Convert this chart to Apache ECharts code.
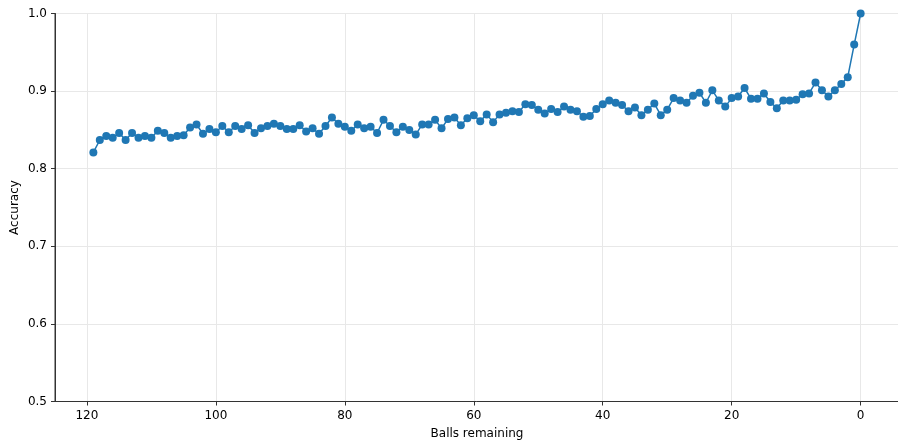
<!DOCTYPE html>
<html>
<head>
<meta charset="utf-8">
<script src="https://cdn.jsdelivr.net/npm/echarts@6/dist/echarts.min.js"></script>
<style>
  html, body { margin: 0; padding: 0; background: #fff; }
  #chart { width: 898px; height: 441px; }
</style>
</head>
<body>
<div id="chart"></div>
<script>
    // balls remaining, counted down from 119 to 0
    var ballsRemaining = [];
    for (var b = 119; b >= 0; b--) ballsRemaining.push(b);

    // accuracy, same order as ballsRemaining
    var accuracy = [
        0.821, 0.837, 0.842, 0.840, 0.846, 0.837, 0.846, 0.840, 0.842, 0.840,
        0.849, 0.846, 0.840, 0.842, 0.843, 0.853, 0.857, 0.845, 0.851, 0.847,
        0.855, 0.847, 0.855, 0.851, 0.856, 0.846, 0.852, 0.855,
        0.858, 0.855, 0.851, 0.851, 0.856, 0.848, 0.852, 0.845, 0.855, 0.866,
        0.858, 0.854, 0.849, 0.857, 0.852, 0.854, 0.846, 0.863, 0.855, 0.847,
        0.854, 0.850, 0.844, 0.857, 0.857, 0.863, 0.852, 0.864, 0.866, 0.856,
        0.865, 0.869,
        0.861, 0.870, 0.860, 0.870, 0.872, 0.874, 0.873, 0.883, 0.882, 0.876,
        0.871, 0.877, 0.873, 0.880, 0.876, 0.874, 0.867, 0.868, 0.877, 0.883,
        0.888, 0.885, 0.882, 0.874, 0.879, 0.869, 0.876, 0.884, 0.869, 0.876,
        0.891,
        0.888, 0.885, 0.894, 0.898, 0.885, 0.901, 0.888, 0.880, 0.891, 0.893,
        0.904, 0.890, 0.890, 0.897, 0.886, 0.878, 0.888, 0.888, 0.889, 0.896,
        0.897, 0.911, 0.901, 0.893, 0.901, 0.909, 0.918, 0.960, 1.000
    ];

    var xTicks = [0, 20, 40, 60, 80, 100, 120];

    var points = ballsRemaining.map(function (b, i) { return [b, accuracy[i]]; });

    var myChart = echarts.init(document.getElementById('chart'));

    var font = 'DejaVu Sans';

    option = {
        animation: false,
        grid: {
            left: 55,
            top: 13.5,
            width: 844,
            height: 388,
            outerBoundsMode: 'none',
            containLabel: false,
            show: true,
            borderColor: '#333',
            borderWidth: 1
        },
        xAxis: {
            type: 'value',
            inverse: true,
            min: -5.95,
            max: 124.95,
            name: 'Balls remaining',
            nameLocation: 'middle',
            nameGap: 26,
            nameMoveOverlap: false,
            nameTextStyle: { color: '#000', fontFamily: font, fontSize: 12 },
            axisLine: { show: true, onZero: false, lineStyle: { color: '#333', width: 1 } },
            axisTick: { show: true, length: 4, customValues: xTicks, lineStyle: { color: '#333' } },
            axisLabel: { customValues: xTicks, color: '#000', fontFamily: font, fontSize: 12, margin: 8 },
            splitLine: { show: true, lineStyle: { color: '#e8e8e8', width: 1 } }
        },
        yAxis: {
            type: 'value',
            min: 0.5,
            max: 1.0,
            interval: 0.1,
            name: 'Accuracy',
            nameLocation: 'middle',
            nameGap: 34,
            nameMoveOverlap: false,
            nameTextStyle: { color: '#000', fontFamily: font, fontSize: 12 },
            axisLine: { show: true, onZero: false, lineStyle: { color: '#333', width: 1 } },
            axisTick: { show: true, length: 4, lineStyle: { color: '#333' } },
            axisLabel: {
                color: '#000', fontFamily: font, fontSize: 12, margin: 8,
                formatter: function (v) { return v.toFixed(1); }
            },
            splitLine: { show: true, lineStyle: { color: '#e8e8e8', width: 1 } }
        },
        series: [{
            type: 'line',
            data: points,
            symbol: 'circle',
            symbolSize: 8,
            itemStyle: { color: '#1f77b4' },
            lineStyle: { color: '#1f77b4', width: 1.5 },
            clip: false
        }]
    };

    myChart.setOption(option);
</script>
</body>
</html>
